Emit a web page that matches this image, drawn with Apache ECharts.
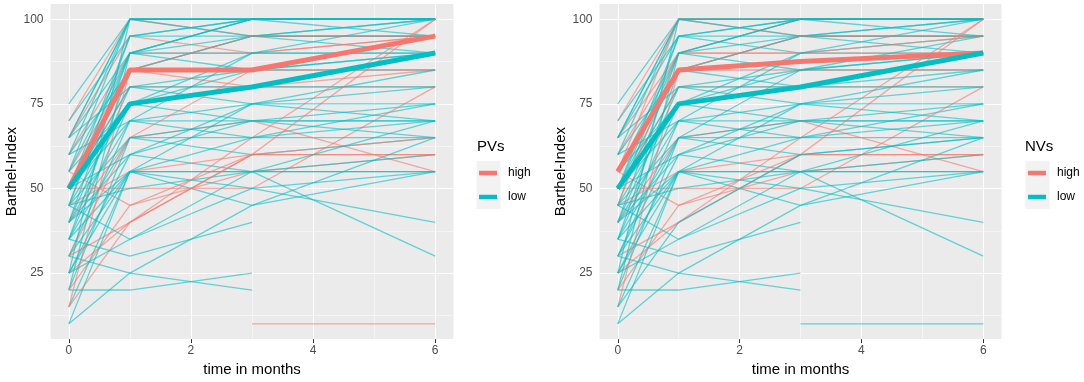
<!DOCTYPE html>
<html>
<head>
<meta charset="utf-8">
<script src="https://cdn.jsdelivr.net/npm/echarts@6/dist/echarts.min.js"></script>
<style>
body { margin: 0; background: #fff; }
#chart { width: 1084px; height: 382px; }
</style>
</head>
<body>
<div id="chart"></div>
<script>
// time points (months)
var months = [0, 1, 3, 6];

// Barthel-Index per patient at each time point (null = missing)
var baseline = [75, 70, 70, 65, 65, 65, 65, 65, 60, 60, 60, 60, 55, 55, 55, 55, 55, 50, 50, 50, 50, 50, 50, 50, 50, 50,
    45, 45, 45, 45, 45, 45, 40, 40, 40, 40, 40, 40, 35, 35, 35, 35, 35, 30, 30, 30, 30, 25, 25, 25, 25, 25,
    20, 20, 20, 20, 15, 15, 15, 10, 10, null, 30, 45];
var month1 = [100, 100, 95, 100, 100, 90, 95, 80, 100, 90, 85, 70, 100, 90, 85, 45, 75, 95, 90, 85, 80, 80, 75, 70, 50, 60,
    95, 90, 75, 65, 55, 50, 90, 80, 70, 65, 60, 55, 85, 75, 65, 55, 30, 70, 65, 55, 40, 100, 60, 55, 40, 35,
    90, 65, 45, 20, 85, 55, 40, 55, 25, null, 25, 35];
var month3 = [100, 95, 100, 100, 95, 100, 90, 85, 100, 90, 95, 65, 100, 85, 85, 55, 70, 100, 95, 80, 80, 80, 90, 75, 50, 70,
    95, 90, 85, 65, 60, 55, 100, 75, 70, 70, 55, 45, 95, 80, 60, 50, 40, 90, 85, 55, 65, 100, 75, 55, 60, 50,
    100, 70, 60, 25, 95, 65, 60, 75, 20, 10, 45, 55];
var month6 = [100, 95, 100, 100, 90, 100, 95, 85, 95, 95, 100, 75, 100, 90, 85, 60, 75, 100, 95, 85, 80, 80, 90, 70, 80, 65,
    100, 90, 90, 65, 60, 55, 100, 85, 70, 55, 60, 55, 95, 90, 65, 40, null, 100, 95, 55, 100, 100, 80, 30, 60, 55,
    100, 70, 100, null, 95, 70, 65, 75, null, 10, 65, 70];

// group of each patient
var pvGroup = ['low', 'high', 'low', 'low', 'low', 'low', 'high', 'low', 'low', 'high', 'low', 'low', 'low', 'low', 'high', 'high', 'low',
    'low', 'low', 'high', 'high', 'low', 'low', 'low', 'high', 'low',
    'low', 'low', 'low', 'low', 'high', 'low', 'low', 'low', 'low', 'high', 'low', 'low', 'low', 'low', 'low', 'low', 'low',
    'low', 'high', 'low', 'high', 'low', 'low', 'low', 'high', 'low',
    'low', 'low', 'high', 'low', 'high', 'low', 'high', 'low', 'low', 'high', 'low', 'low'];
var nvGroup = ['low', 'high', 'low', 'low', 'low', 'high', 'low', 'low', 'low', 'high', 'low', 'low', 'high', 'low', 'high', 'high', 'low',
    'low', 'low', 'low', 'high', 'low', 'low', 'low', 'high', 'low',
    'low', 'high', 'low', 'low', 'high', 'low', 'low', 'low', 'low', 'high', 'low', 'low', 'low', 'low', 'low', 'low', 'low',
    'low', 'low', 'low', 'high', 'low', 'low', 'low', 'high', 'low',
    'low', 'low', 'high', 'low', 'high', 'low', 'low', 'low', 'low', 'low', 'low', 'low'];

// group medians
var pvHighMedian = [50, 85, 85, 95];
var pvLowMedian = [50, 75, 80, 90];
var nvHighMedian = [55, 85, 87.5, 90];
var nvLowMedian = [50, 75, 80, 90];

// axis ticks
var xTicks = [0, 2, 4, 6];
var xMinor = [1, 3, 5];
var yTicks = [25, 50, 75, 100];
var yMinor = [12.5, 37.5, 62.5, 87.5];

var colors = { high: '#F8766D', low: '#00BFC4' };
var font = 'Liberation Sans, Arial, sans-serif';

function patientPoints(i) {
    var vals = [baseline[i], month1[i], month3[i], month6[i]];
    var pts = [];
    vals.forEach(function (v, k) {
        if (v !== null) pts.push([months[k], v]);
    });
    return pts;
}

function medianPoints(arr) {
    return arr.map(function (v, k) { return [months[k], v]; });
}

// white panel grid, drawn under the data
function gridLines(idx) {
    var d = [];
    yTicks.forEach(function (v) { d.push({ yAxis: v, lineStyle: { width: 1.1 } }); });
    yMinor.forEach(function (v) { d.push({ yAxis: v, lineStyle: { width: 0.5 } }); });
    xTicks.forEach(function (v) { d.push({ xAxis: v, lineStyle: { width: 1.1 } }); });
    xMinor.forEach(function (v) { d.push({ xAxis: v, lineStyle: { width: 0.5 } }); });
    return {
        type: 'line',
        xAxisIndex: idx,
        yAxisIndex: idx,
        data: [],
        silent: true,
        markLine: {
            silent: true,
            symbol: ['none', 'none'],
            label: { show: false },
            z: 1,
            lineStyle: { color: '#ffffff', type: 'solid' },
            data: d
        }
    };
}

function panelSeries(idx, groups, highMed, lowMed) {
    var list = [gridLines(idx)];
    for (var i = 0; i < baseline.length; i++) {
        list.push({
            type: 'line',
            name: groups[i],
            xAxisIndex: idx,
            yAxisIndex: idx,
            data: patientPoints(i),
            symbol: 'none',
            silent: true,
            z: 2,
            color: colors[groups[i]],
            lineStyle: { width: 1.3, opacity: 0.6 }
        });
    }
    // thick median lines
    list.push({
        type: 'line', name: 'high', xAxisIndex: idx, yAxisIndex: idx,
        data: medianPoints(highMed), symbol: 'none', silent: true, z: 3,
        color: colors.high, lineStyle: { width: 5 }
    });
    list.push({
        type: 'line', name: 'low', xAxisIndex: idx, yAxisIndex: idx,
        data: medianPoints(lowMed), symbol: 'none', silent: true, z: 4,
        color: colors.low, lineStyle: { width: 5 }
    });
    return list;
}

function xAxisOpt(idx) {
    return {
        type: 'value', gridIndex: idx, min: -0.3, max: 6.3,
        name: 'time in months', nameLocation: 'middle', nameGap: 21,
        nameTextStyle: { fontSize: 15, color: '#000', fontFamily: font },
        axisLine: { show: false },
        axisTick: { show: true, length: 4, customValues: xTicks, lineStyle: { color: '#333' } },
        axisLabel: { customValues: xTicks, margin: 6, fontSize: 12, color: '#4D4D4D', fontFamily: font },
        splitLine: { show: false }
    };
}

function yAxisOpt(idx) {
    return {
        type: 'value', gridIndex: idx, min: 5.5, max: 104.5,
        name: 'Barthel-Index', nameLocation: 'middle', nameGap: 30, nameRotate: 90,
        nameTextStyle: { fontSize: 15, color: '#000', fontFamily: font },
        axisLine: { show: false },
        axisTick: { show: true, length: 3.5, customValues: yTicks, lineStyle: { color: '#333' } },
        axisLabel: { customValues: yTicks, margin: 7, fontSize: 12, color: '#4D4D4D', fontFamily: font },
        splitLine: { show: false }
    };
}

function legendOpt(left) {
    return {
        left: left, top: 167, orient: 'vertical', icon: 'rect', padding: 0,
        itemWidth: 18, itemHeight: 4.5, itemGap: 12, selectedMode: false,
        textStyle: { fontSize: 12, color: '#000', fontFamily: font, padding: [0, 0, 0, 6] },
        data: [
            { name: 'high', itemStyle: { color: colors.high, opacity: 1 } },
            { name: 'low', itemStyle: { color: colors.low, opacity: 1 } }
        ]
    };
}

var myChart = echarts.init(document.getElementById('chart'));

var option = {
    animation: false,
    backgroundColor: '#ffffff',
    textStyle: { fontFamily: font },
    grid: [
        { left: 50.5, top: 4, width: 403, height: 340, show: true, backgroundColor: '#EBEBEB', borderWidth: 0 },
        { left: 599.5, top: 4, width: 402, height: 340, show: true, backgroundColor: '#EBEBEB', borderWidth: 0 }
    ],
    xAxis: [xAxisOpt(0), xAxisOpt(1)],
    yAxis: [yAxisOpt(0), yAxisOpt(1)],
    title: [
        { text: 'PVs', left: 477, top: 139, padding: 0, textStyle: { fontSize: 15, fontWeight: 'normal', color: '#000', fontFamily: font } },
        { text: 'NVs', left: 1025, top: 139, padding: 0, textStyle: { fontSize: 15, fontWeight: 'normal', color: '#000', fontFamily: font } }
    ],
    legend: [legendOpt(479), legendOpt(1028)],
    graphic: [
        { type: 'rect', left: 476.5, top: 161, shape: { width: 24, height: 48 }, style: { fill: '#F2F2F2' }, z: -1 },
        { type: 'rect', left: 1025.5, top: 161, shape: { width: 24, height: 48 }, style: { fill: '#F2F2F2' }, z: -1 }
    ],
    series: panelSeries(0, pvGroup, pvHighMedian, pvLowMedian)
        .concat(panelSeries(1, nvGroup, nvHighMedian, nvLowMedian))
};

myChart.setOption(option);
</script>
</body>
</html>
